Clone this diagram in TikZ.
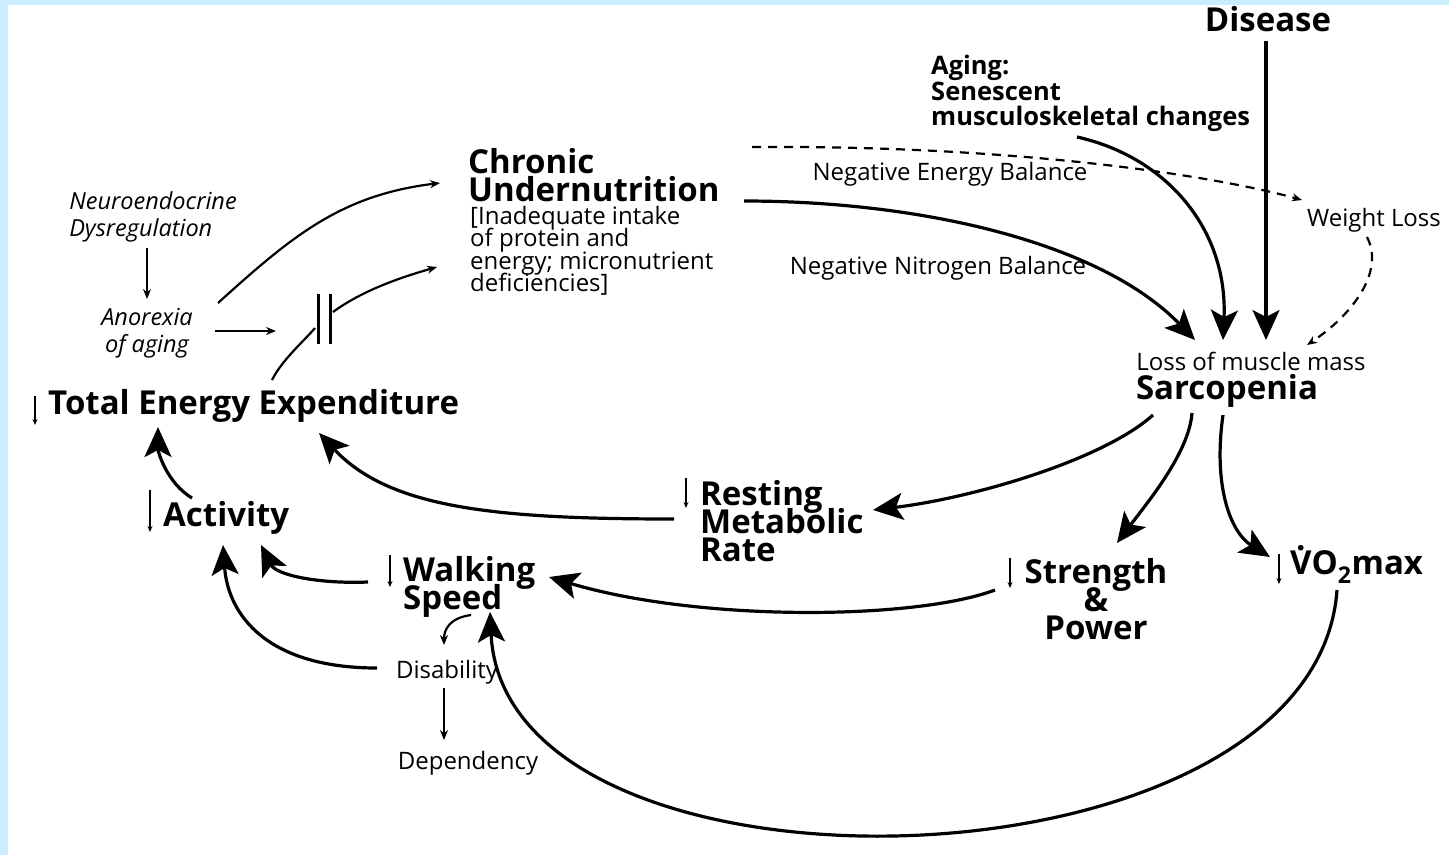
\documentclass[tikz,border=0pt]{standalone}
\usepackage{fontspec}
\setmainfont{Open Sans}
\usetikzlibrary{positioning}
\usetikzlibrary{arrows.meta}
\definecolor{framebg}{RGB}{204,236,255}
\newcommand\tightlines{\lineskiplimit=-60pt\relax} % keep the set line spacing
\newcommand\vdotV{\ooalign{V\cr\hidewidth\raisebox{0.74em}{.}\hidewidth\cr}}
\tikzset{
every node/.style={inner sep=0pt}, % Text nodes hug their text
bigtxt/.style={font=\fontsize{33}{28}\selectfont\bfseries\tightlines},
midtxt/.style={font=\fontsize{25.5}{25.5}\selectfont\bfseries\tightlines},
smalltxt/.style={font=\fontsize{24}{22.5}\selectfont\tightlines},
ittxt/.style={font=\fontsize{23.5}{27}\selectfont\itshape\tightlines},
bigarr/.style={ % Heavy arrows of the main cycle
-{Stealth[length=30pt,width=27pt,inset=7pt]},
line width=3.2pt},
thinarr/.style={-{Stealth[length=10pt,width=8pt]}, line width=2.2pt},
dasharr/.style={thinarr, dash pattern=on 9pt off 7pt},
dnarr/.style={-{Stealth[length=6pt,width=5pt]}, line width=1.8pt}}

\begin{document}
\begin{tikzpicture}[x=1pt,y=-1pt]
\fill[framebg] (0,0) rectangle (1449,855);
\fill[white] (8,5) rectangle (1449,855);
\useasboundingbox (0,0) rectangle (1449,855);

\node[bigtxt] (dis) at (1268,19) {Disease};
\node[midtxt, align=left, anchor=north west] (age) at (931,55) {Aging:\\Senescent\\musculoskeletal changes};
\node[bigtxt, align=left, anchor=north west] (un) at (468,148) {Chronic\\Undernutrition};
\node[smalltxt, align=left, anchor=north west] (inad) at (470,206) {[Inadequate intake\\of protein and\\energy; micronutrient\\deficiencies]};
\node[ittxt, align=left] (neuro) at (153,217) {Neuroendocrine\\Dysregulation};
\node[ittxt, align=center] (anor) at (147,333) {Anorexia\\of aging};
\node[smalltxt] (neb) at (950,174) {Negative Energy Balance};
\node[smalltxt] (nnb) at (938,268) {Negative Nitrogen Balance};
\node[smalltxt] (wl) at (1374,220) {Weight Loss};
\node[smalltxt] (loss) at (1251,361) {Loss of muscle mass};
\node[bigtxt] (sarc) at (1227,391) {Sarcopenia};
\node[bigtxt, anchor=west] (tee) at (48,406) {Total Energy Expenditure};
\node[bigtxt, anchor=west] (act) at (163,518) {Activity};
\node[bigtxt, align=left, anchor=west] (rmr) at (700,521) {Resting\\Metabolic\\Rate};
\node[bigtxt, align=left, anchor=west] (ws) at (403,587) {Walking\\Speed};
\node[bigtxt, align=center] (str) at (1096,599) {Strength\\\&\\Power};
\node[bigtxt, anchor=west] (vo) at (1290,567) {\vdotV O\textsubscript{2}max};
\node[smalltxt] (disab) at (447,672) {Disability};
\node[smalltxt] (dep) at (468,763) {Dependency};
\coordinate (blk) at (324,319);

% small down arrows in front of the labels
\draw[dnarr] ([shift={(-13,-10)}]tee.west) -- ++(0,29);
\draw[dnarr] ([shift={(-13,-28)}]act.west) -- ++(0,42);
\draw[dnarr] ([shift={(-14,-43)}]rmr.west) -- ++(0,30);
\draw[dnarr] ([shift={(-13,-32)}]ws.west) -- ++(0,32);
\draw[dnarr] ([shift={(-86,-41)}]str.center) -- ++(0,30);
\draw[dnarr] ([shift={(-11,-13)}]vo.west) -- ++(0,30);

% intake side
\draw[thinarr] ([shift={(-6,31)}]neuro.center) -- ([shift={(0,-34)}]anor.center);
\draw[thinarr] ([shift={(68,-2)}]anor.center) -- ([shift={(-48,12)}]blk);
\draw[thinarr] ([shift={(71,-30)}]anor.center) .. controls +(74,-67) and +(-99,12) .. ([shift={(-28,35)}]un.north west);
\draw[line width=2.2pt] ([shift={(224,-26)}]tee.west) .. controls +(10,-20) and +(-12,14) .. ([shift={(-9,9)}]blk);
\draw[thinarr] ([shift={(9,-7)}]blk) .. controls +(30,-22) and +(-35,10) .. ([shift={(-31,119)}]un.north west);
\draw[line width=3pt] ([shift={(-6,-25)}]blk) -- ([shift={(-6,25)}]blk)
  ([shift={(6,-25)}]blk) -- ([shift={(6,25)}]blk);

% into sarcopenia
\draw[bigarr] ([shift={(276,53)}]un.north west) .. controls +(176,0) and +(-95,-98) .. ([shift={(-56,-21)}]loss.center);
\draw[dasharr] ([shift={(284,-1)}]un.north west) .. controls +(260,-2) and +(-90,-25) .. ([shift={(-72,-20)}]wl.center);
\draw[dasharr] ([shift={(-7,17)}]wl.center) .. controls +(18,35) and +(45,-30) .. ([shift={(56,-16)}]loss.center);
\draw[bigarr] ([shift={(146,82)}]age.north west) .. controls +(90,20) and +(5,-110) .. ([shift={(-28,-21)}]loss.center);
\draw[bigarr] ([shift={(-2,22)}]dis.center) -- ([shift={(15,-21)}]loss.center);

% out of sarcopenia
\draw[bigarr] ([shift={(-74,24)}]sarc.center) .. controls +(-50,45) and +(100,-12) .. ([shift={(173,-11)}]rmr.west);
\draw[bigarr] ([shift={(-35,22)}]sarc.center) .. controls +(-3,40) and +(30,-40) .. ([shift={(21,-56)}]str.center);
\draw[bigarr] ([shift={(-4,24)}]sarc.center) .. controls +(-10,70) and +(-40,-25) .. ([shift={(-20,-10)}]vo.west);

% lower cycle
\draw[bigarr] ([shift={(47,23)}]vo.west) .. controls +(-22,310) and +(15,308) .. ([shift={(87,25)}]ws.west);
\draw[bigarr] ([shift={(-101,-9)}]str.center) .. controls +(-80,30) and +(150,45) .. ([shift={(146,-10)}]ws.west);
\draw[bigarr] ([shift={(-26,-2)}]rmr.west) .. controls +(-180,0) and +(70,75) .. ([shift={(271,27)}]tee.west);
\draw[bigarr] ([shift={(-35,-5)}]ws.west) .. controls +(-50,2) and +(15,30) .. ([shift={(98,27)}]act.west);
\draw[bigarr] ([shift={(-70,-4)}]disab.center) .. controls +(-110,0) and +(5,70) .. ([shift={(60,27)}]act.west);
\draw[bigarr] ([shift={(29,-20)}]act.west) .. controls +(-25,-15) and +(0,25) .. ([shift={(110,21)}]tee.west);
\draw[thinarr] ([shift={(68,28)}]ws.west) .. controls +(-22,3) and +(0,-15) .. ([shift={(-3,-27)}]disab.center);
\draw[thinarr] ([shift={(-3,16)}]disab.center) -- ([shift={(-24,-23)}]dep.center);
\end{tikzpicture}
\end{document}
